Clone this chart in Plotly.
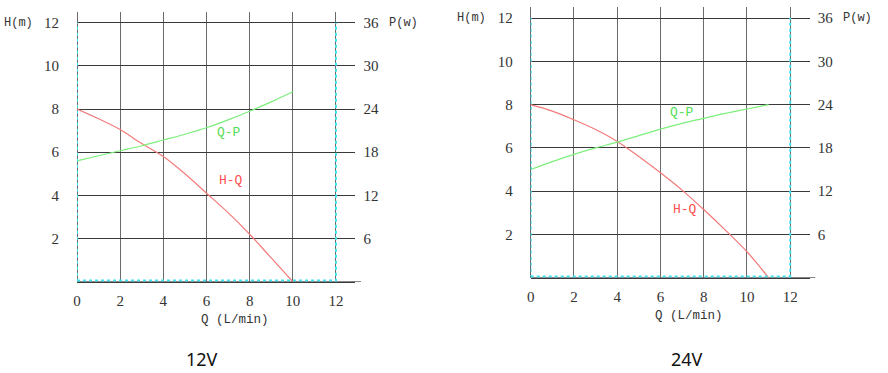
import plotly.graph_objects as go

# ---- data ----
q_ticks = [0, 2, 4, 6, 8, 10, 12]
h_ticks = [2, 4, 6, 8, 10, 12]
p_ticks = [6, 12, 18, 24, 30, 36]

q12 = [0, 1, 2, 3, 4, 5, 6, 7, 8, 9, 10]
h12 = [8, 7.55, 7.05, 6.4, 5.8, 5.0, 4.1, 3.2, 2.2, 1.1, 0]
p12 = [16.8, 17.5, 18.2, 18.9, 19.7, 20.5, 21.4, 22.5, 23.7, 25.0, 26.4]

q24 = [0, 1, 2, 3, 4, 5, 6, 7, 8, 9, 10, 11]
h24 = [8, 7.7, 7.3, 6.85, 6.3, 5.6, 4.85, 4.05, 3.15, 2.2, 1.2, 0]
p24 = [15, 16.1, 17.1, 18.0, 18.8, 19.7, 20.6, 21.4, 22.1, 22.8, 23.4, 24]

panels = ["12V", "24V"]

RED = "#f47a7a"
GREEN = "#7cf07c"
CYAN = "#3fe3f0"
GRID_H = "#3a3a3a"
GRID_V = "#6a6a6a"
TICKC = "#333333"
SERIF = "Liberation Serif"
MONO = "Liberation Mono"

fig = go.Figure()

# left panel
fig.add_trace(go.Scatter(x=q12, y=h12, mode="lines", line=dict(color=RED, width=1.2, shape="spline"),
                         xaxis="x", yaxis="y", showlegend=False, hoverinfo="skip"))
fig.add_trace(go.Scatter(x=q12, y=p12, mode="lines", line=dict(color=GREEN, width=1.2, shape="spline"),
                         xaxis="x", yaxis="y2", showlegend=False, hoverinfo="skip"))
# right panel
fig.add_trace(go.Scatter(x=q24, y=h24, mode="lines", line=dict(color=RED, width=1.2, shape="spline"),
                         xaxis="x2", yaxis="y3", showlegend=False, hoverinfo="skip"))
fig.add_trace(go.Scatter(x=q24, y=p24, mode="lines", line=dict(color=GREEN, width=1.2, shape="spline"),
                         xaxis="x2", yaxis="y4", showlegend=False, hoverinfo="skip"))

xr = [0, 12.9]
yr = [0, 12.5]
pr = [0, 37.5]


def xax(domain, anchor):
    return dict(domain=domain, anchor=anchor, range=xr, tickvals=q_ticks, showgrid=True,
                gridcolor=GRID_V, gridwidth=1, zeroline=True, zerolinecolor=GRID_V, zerolinewidth=1,
                showline=True, linecolor=GRID_H, linewidth=1, ticks="", ticklabelstandoff=5,
                tickfont=dict(family=SERIF, size=15, color=TICKC), fixedrange=True)


def yax(domain, anchor):
    return dict(domain=domain, anchor=anchor, range=yr, tickvals=h_ticks, showgrid=True,
                gridcolor=GRID_H, gridwidth=1, zeroline=True, zerolinecolor=GRID_H, zerolinewidth=1,
                showline=False, ticks="", ticklabelstandoff=17,
                tickfont=dict(family=SERIF, size=15, color=TICKC), fixedrange=True)


def pax(overlay, anchor):
    return dict(overlaying=overlay, anchor=anchor, side="right", range=pr, tickvals=p_ticks,
                showgrid=False, zeroline=False, showline=False, ticks="", ticklabelstandoff=7,
                tickfont=dict(family=SERIF, size=15, color=TICKC), fixedrange=True)


fig.update_layout(
    width=888, height=373, margin=dict(l=0, r=0, t=0, b=0, autoexpand=False),
    paper_bgcolor="white", plot_bgcolor="white",
    xaxis=xax([77 / 888, 355.4 / 888], "y"),
    yaxis=yax([91.3 / 373, 361.1 / 373], "x"),
    yaxis2=pax("y", "x"),
    xaxis2=xax([530.7 / 888, 809.7 / 888], "y3"),
    yaxis3=yax([95.3 / 373, 365.7 / 373], "x2"),
    yaxis4=pax("y3", "x2"),
)

# cyan dotted frame (left, right, bottom) on both panels
shapes = []
for xa, ya in (("x", "y"), ("x2", "y3")):
    x0, x1 = q_ticks[0], q_ticks[-1]
    ytop = h_ticks[-1]
    for xv in (x0, x1):
        shapes.append(dict(type="line", xref=xa, yref=ya, x0=xv, x1=xv, y0=0, y1=ytop,
                           line=dict(color=CYAN, width=2, dash="dot"), layer="above"))
    shapes.append(dict(type="line", xref=xa, yref=ya, x0=x0, x1=x1, y0=0.05, y1=0.05,
                       line=dict(color=CYAN, width=2, dash="dot"), layer="above"))
    # axis line extends a little past the grid
    shapes.append(dict(type="line", xref=xa + " domain", yref=ya, x0=0, x1=1.02, y0=0, y1=0,
                       line=dict(color=GRID_H, width=1), layer="below"))
fig.update_layout(shapes=shapes)

C = dict(xanchor="center", yanchor="middle", showarrow=False)
ann = []
# curve labels
ann.append(dict(text="Q-P", x=7.03, y=6.89, xref="x", yref="y",
                font=dict(family=MONO, size=13, color="#55dd55"), **C))
ann.append(dict(text="H-Q", x=7.14, y=4.67, xref="x", yref="y",
                font=dict(family=MONO, size=13, color="#ff4d4d"), **C))
ann.append(dict(text="Q-P", x=7.01, y=7.62, xref="x2", yref="y3",
                font=dict(family=MONO, size=13, color="#55dd55"), **C))
ann.append(dict(text="H-Q", x=7.15, y=3.13, xref="x2", yref="y3",
                font=dict(family=MONO, size=13, color="#ff4d4d"), **C))

# axis titles
for (hx, px_, xa, ya, tcx, tcy, sx, sy, lab) in (
        (35, 387, "x", "y", 235, 320, 202, 359, panels[0]),
        (488, 841, "x2", "y3", 689, 316, 687, 359, panels[1])):
    ann.append(dict(text="H(m)", x=hx / 888, y=12, xref="paper", yref=ya, xanchor="right",
                    yanchor="middle", showarrow=False,
                    font=dict(family=MONO, size=12, color="#333333")))
    ann.append(dict(text="P(w)", x=px_ / 888, y=12, xref="paper", yref=ya, xanchor="left",
                    yanchor="middle", showarrow=False,
                    font=dict(family=MONO, size=12, color="#333333")))
    ann.append(dict(text="Q (L/min)", x=tcx / 888, y=1 - tcy / 373, xref="paper", yref="paper",
                    font=dict(family=MONO, size=12.5, color="#333333"), **C))
    ann.append(dict(text=lab, x=sx / 888, y=1 - sy / 373, xref="paper", yref="paper",
                    font=dict(family="Noto Sans", size=18, color="#111111"), **C))
fig.update_layout(annotations=ann)

fig.write_html("out.html", config={"displayModeBar": False, "staticPlot": True})
with open("out.html", "r", encoding="utf-8") as f:
    html = f.read()
html = html.replace("<body>", '<body style="margin:0;padding:0;overflow:hidden">', 1)
html = html.replace("<head>", '<head><style>html,body{margin:0;padding:0;}</style>', 1)
with open("out.html", "w", encoding="utf-8") as f:
    f.write(html)
